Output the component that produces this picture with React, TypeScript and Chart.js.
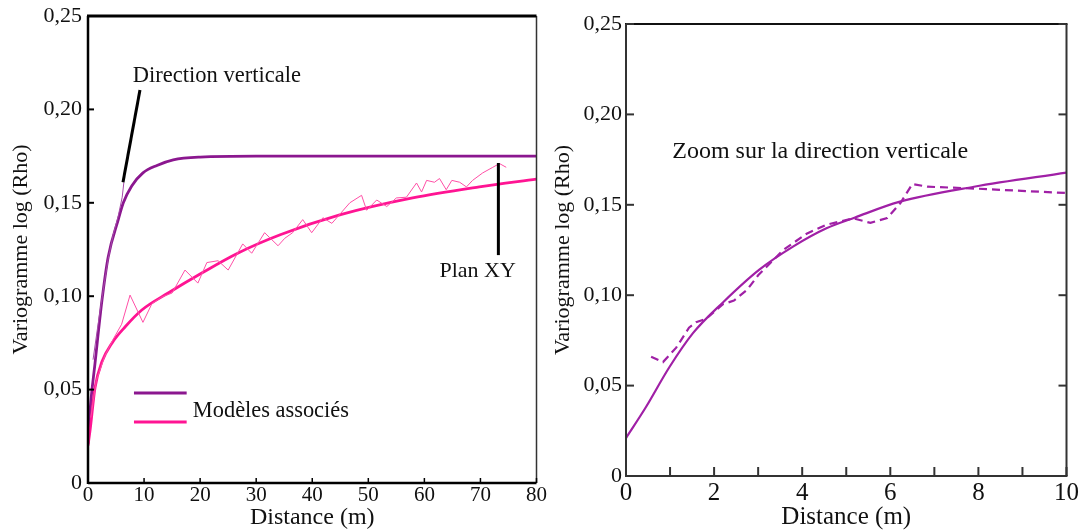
import React, { useEffect, useRef } from 'react';
import { Chart, registerables } from 'chart.js';

Chart.register(...registerables);

const FONT = "'Liberation Serif', 'Times New Roman', Times, serif";

// ---------- Left chart data (distance in m, variogram) ----------
const vertModelX = [0, 0.4, 1.25, 2.5, 3.6, 5.4, 6.3, 7.8, 9.8, 12.3, 15.2, 20, 30, 80];
const vertModelY = [0.021, 0.04, 0.064, 0.098, 0.121, 0.141, 0.15, 0.159, 0.166, 0.17, 0.173, 0.1745, 0.175, 0.175];

const vertExpX = [0.9, 1.8, 2.7, 3.6, 4.5, 5.4, 6.1, 6.4];
const vertExpY = [0.066, 0.085, 0.103, 0.12, 0.133, 0.143, 0.153, 0.161];

const xyModelX = [0, 0.4, 1.25, 2.5, 4.3, 6.6, 9.6, 14.3, 20.3, 26.7, 34.4, 44.9, 57.9, 69.8, 80];
const xyModelY = [0.02, 0.029, 0.051, 0.065, 0.075, 0.0835, 0.0926, 0.1017, 0.1124, 0.123, 0.133, 0.1435, 0.1526, 0.1585, 0.1627];

const xyExpX = [0.5, 1.5, 3, 4.5, 6, 7.5, 9.8, 11.4, 13.2, 15, 17.3, 19.6, 21.2, 23.2, 25, 27.6, 29.2, 31.5, 33.9, 35.1, 36.5, 38.3, 39.9, 41.9, 43.5, 46.7, 48.8, 49.7, 51.5, 53.3, 55, 56.8, 58.6, 59.5, 60.4, 61.8, 62.7, 63.9, 64.9, 66.3, 67.5, 68.6, 70.4, 72.2, 73.4, 74.6];
const xyExpY = [0.035, 0.055, 0.068, 0.077, 0.085, 0.1006, 0.086, 0.096, 0.0996, 0.1017, 0.114, 0.107, 0.118, 0.119, 0.114, 0.128, 0.123, 0.134, 0.127, 0.131, 0.134, 0.141, 0.134, 0.142, 0.139, 0.15, 0.154, 0.146, 0.1515, 0.148, 0.1526, 0.153, 0.1606, 0.1558, 0.162, 0.161, 0.163, 0.157, 0.162, 0.161, 0.1585, 0.162, 0.166, 0.169, 0.171, 0.169];

// ---------- Right chart data (zoom on vertical direction) ----------
const zoomModelX = [0, 0.45, 0.98, 1.52, 2.2, 3.02, 3.8, 4.55, 5.2, 6.2, 7.9, 10];
const zoomModelY = [0.021, 0.038, 0.06, 0.079, 0.096, 0.114, 0.127, 0.137, 0.143, 0.1516, 0.16, 0.1678];

const zoomExpX = [0.57, 0.84, 1.14, 1.43, 1.59, 1.82, 2.2, 2.45, 2.75, 3.0, 3.57, 4.1, 4.55, 5.16, 5.55, 5.93, 6.23, 6.5, 6.84, 7.9, 10];
const zoomExpY = [0.066, 0.063, 0.071, 0.082, 0.085, 0.087, 0.095, 0.097, 0.103, 0.111, 0.125, 0.134, 0.139, 0.1425, 0.14, 0.1427, 0.151, 0.1615, 0.16, 0.159, 0.1565];

// ---------- Tick labels ----------
const yTickLabels = ['0', '0,05', '0,10', '0,15', '0,20', '0,25'];
const leftXTickLabels = ['0', '10', '20', '30', '40', '50', '60', '70', '80'];
const rightXTickLabels = ['0', '', '2', '', '4', '', '6', '', '8', '', '10'];

// ---------- Annotations (data units) ----------
const dirVertText = 'Direction verticale';
const dirVertAt = [8.0, 0.2145];
const dirVertLeader = [[9.27, 0.2104], [6.24, 0.161]];
const planText = 'Plan XY';
const planAt = [62.7, 0.1105];
const planLeader = [[73.2, 0.1713], [73.2, 0.122]];
const legendText = 'Modèles associés';
const legendLineX = [8.2, 17.6];
const legendLineY = [0.0482, 0.0327];
const legendTextAt = [18.7, 0.0353];
const zoomText = 'Zoom sur la direction verticale';
const zoomAt = [1.05, 0.176];

const PURPLE = '#8b178f';
const PINK = '#ff1493';
const PINK_LIGHT = '#ff4fa6';
const ZOOM_PURPLE = '#a020a6';

function pts(xs: number[], ys: number[]) {
  return xs.map((x, i) => ({ x, y: ys[i] }));
}

function seg(ctx: CanvasRenderingContext2D, x1: number, y1: number, x2: number, y2: number, color: string, w: number) {
  ctx.beginPath();
  ctx.strokeStyle = color;
  ctx.lineWidth = w;
  ctx.moveTo(x1, y1);
  ctx.lineTo(x2, y2);
  ctx.stroke();
}

const leftDeco = {
  id: 'leftDeco',
  afterDraw(chart: any) {
    const { ctx, chartArea: a, scales } = chart;
    const xs = scales.x, ys = scales.y;
    const px = (v: number) => xs.getPixelForValue(v);
    const py = (v: number) => ys.getPixelForValue(v);
    ctx.save();
    seg(ctx, a.right, a.top, a.right, a.bottom, '#333', 1.5);
    seg(ctx, a.left - 1, a.top, a.right, a.top, '#000', 3);
    seg(ctx, a.left, a.top, a.left, a.bottom + 1, '#000', 2.5);
    seg(ctx, a.left, a.bottom, a.right, a.bottom, '#000', 2.5);
    ys.ticks.forEach((t: any) => { const y = py(t.value); seg(ctx, a.left, y, a.left + 6, y, '#000', 2); });
    xs.ticks.forEach((t: any) => { const x = px(t.value); seg(ctx, x, a.bottom, x, a.bottom - 5, '#000', 1.5); });
    // annotations
    ctx.fillStyle = '#111';
    ctx.textBaseline = 'alphabetic';
    ctx.textAlign = 'left';
    ctx.font = `22.5px ${FONT}`;
    ctx.fillText(dirVertText, px(dirVertAt[0]), py(dirVertAt[1]));
    seg(ctx, px(dirVertLeader[0][0]), py(dirVertLeader[0][1]), px(dirVertLeader[1][0]), py(dirVertLeader[1][1]), '#000', 3);
    ctx.font = `22px ${FONT}`;
    ctx.fillText(planText, px(planAt[0]), py(planAt[1]));
    seg(ctx, px(planLeader[0][0]), py(planLeader[0][1]), px(planLeader[1][0]), py(planLeader[1][1]), '#000', 3);
    // legend
    seg(ctx, px(legendLineX[0]), py(legendLineY[0]), px(legendLineX[1]), py(legendLineY[0]), PURPLE, 3);
    seg(ctx, px(legendLineX[0]), py(legendLineY[1]), px(legendLineX[1]), py(legendLineY[1]), PINK, 3);
    ctx.font = `22.4px ${FONT}`;
    ctx.fillText(legendText, px(legendTextAt[0]), py(legendTextAt[1]));
    ctx.restore();
  },
};

const rightDeco = {
  id: 'rightDeco',
  afterDraw(chart: any) {
    const { ctx, chartArea: a, scales } = chart;
    const xs = scales.x, ys = scales.y;
    const px = (v: number) => xs.getPixelForValue(v);
    const py = (v: number) => ys.getPixelForValue(v);
    ctx.save();
    seg(ctx, a.left - 1, a.top, a.right + 1, a.top, '#111', 2);
    seg(ctx, a.left, a.top, a.left, a.bottom, '#333', 2);
    seg(ctx, a.right, a.top, a.right, a.bottom, '#333', 2);
    seg(ctx, a.left - 1, a.bottom, a.right + 1, a.bottom, '#333', 2);
    ys.ticks.forEach((t: any) => {
      const y = py(t.value);
      seg(ctx, a.left, y, a.left + 8, y, '#333', 2);
      seg(ctx, a.right, y, a.right - 8, y, '#333', 2);
    });
    xs.ticks.forEach((t: any) => { const x = px(t.value); seg(ctx, x, a.bottom, x, a.bottom - 9, '#333', 2); });
    ctx.fillStyle = '#111';
    ctx.textBaseline = 'alphabetic';
    ctx.textAlign = 'left';
    ctx.font = `24px ${FONT}`;
    ctx.fillText(zoomText, px(zoomAt[0]), py(zoomAt[1]));
    ctx.restore();
  },
};

function makeOptions(o: {
  xMax: number; xStep: number; xLabels: string[]; yWidth: number; xHeight: number;
  xTickSize: number; xTickPad: number; yTickPad: number; yTitlePad: number;
  xTitleSize: number; xTitlePad: number; padTop: number;
}) {
  return {
    responsive: false,
    animation: false,
    devicePixelRatio: 1,
    layout: { padding: { left: 0, top: o.padTop, right: 0, bottom: 0 } },
    plugins: { legend: { display: false }, tooltip: { enabled: false }, title: { display: false } },
    elements: { point: { radius: 0 } },
    scales: {
      x: {
        type: 'linear',
        min: 0,
        max: o.xMax,
        grid: { display: false, drawTicks: false },
        border: { display: false },
        afterFit: (s: any) => { s.height = o.xHeight; },
        ticks: {
          stepSize: o.xStep,
          autoSkip: false,
          maxRotation: 0,
          padding: o.xTickPad,
          color: '#111',
          font: { family: FONT, size: o.xTickSize, lineHeight: 1.2 },
          callback: (_v: any, i: number) => o.xLabels[i],
        },
        title: {
          display: true,
          text: 'Distance (m)',
          color: '#111',
          font: { family: FONT, size: o.xTitleSize, lineHeight: 1 },
          padding: { top: 0, bottom: o.xTitlePad },
        },
      },
      y: {
        type: 'linear',
        min: 0,
        max: 0.25,
        grid: { display: false, drawTicks: false },
        border: { display: false },
        afterFit: (s: any) => { s.width = o.yWidth; },
        ticks: {
          stepSize: 0.05,
          autoSkip: false,
          padding: o.yTickPad,
          color: '#111',
          font: { family: FONT, size: 22, lineHeight: 0.9 },
          callback: (_v: any, i: number) => yTickLabels[i],
        },
        title: {
          display: true,
          text: 'Variogramme log (Rho)',
          color: '#111',
          font: { family: FONT, size: 22, lineHeight: 1.2 },
          padding: { top: o.yTitlePad, bottom: 0 },
        },
      },
    },
  };
}

function LeftChart() {
  const ref = useRef<HTMLCanvasElement>(null);
  useEffect(() => {
    const chart = new Chart(ref.current as HTMLCanvasElement, {
      type: 'line',
      data: {
        datasets: [
          { data: pts(xyExpX, xyExpY), borderColor: PINK_LIGHT, borderWidth: 1, tension: 0, pointRadius: 0 },
          { data: pts(vertExpX, vertExpY), borderColor: '#a44aa8', borderWidth: 1, tension: 0, pointRadius: 0 },
          { data: pts(xyModelX, xyModelY), borderColor: PINK, borderWidth: 2.8, cubicInterpolationMode: 'monotone', pointRadius: 0 },
          { data: pts(vertModelX, vertModelY), borderColor: PURPLE, borderWidth: 2.8, cubicInterpolationMode: 'monotone', pointRadius: 0 },
        ],
      },
      options: makeOptions({
        xMax: 80, xStep: 10, xLabels: leftXTickLabels, yWidth: 88, xHeight: 47,
        xTickSize: 21, xTickPad: 0, yTickPad: 6, yTitlePad: 8, xTitleSize: 24, xTitlePad: 0,
        padTop: 16,
      }) as any,
      plugins: [leftDeco],
    });
    return () => chart.destroy();
  }, []);
  return (
    <canvas ref={ref} width={547} height={530}
      style={{ position: 'absolute', left: 0, top: 0, width: 547, height: 530 }} />
  );
}

function RightChart() {
  const ref = useRef<HTMLCanvasElement>(null);
  useEffect(() => {
    const chart = new Chart(ref.current as HTMLCanvasElement, {
      type: 'line',
      data: {
        datasets: [
          { data: pts(zoomExpX, zoomExpY), borderColor: ZOOM_PURPLE, borderWidth: 2.2, borderDash: [8, 5], tension: 0, pointRadius: 0 },
          { data: pts(zoomModelX, zoomModelY), borderColor: ZOOM_PURPLE, borderWidth: 2.2, cubicInterpolationMode: 'monotone', pointRadius: 0 },
        ],
      },
      options: makeOptions({
        xMax: 10, xStep: 1, xLabels: rightXTickLabels, yWidth: 77, xHeight: 54,
        xTickSize: 25, xTickPad: 2, yTickPad: 4, yTitlePad: 1, xTitleSize: 25, xTitlePad: 0,
        padTop: 24,
      }) as any,
      plugins: [rightDeco],
    });
    return () => chart.destroy();
  }, []);
  return (
    <canvas ref={ref} width={532} height={530}
      style={{ position: 'absolute', left: 549, top: 0, width: 532, height: 530 }} />
  );
}

export default function App() {
  return (
    <div style={{ position: 'absolute', left: 0, top: 0, width: 1079, height: 530, background: '#fff', overflow: 'hidden' }}>
      <LeftChart />
      <RightChart />
    </div>
  );
}
